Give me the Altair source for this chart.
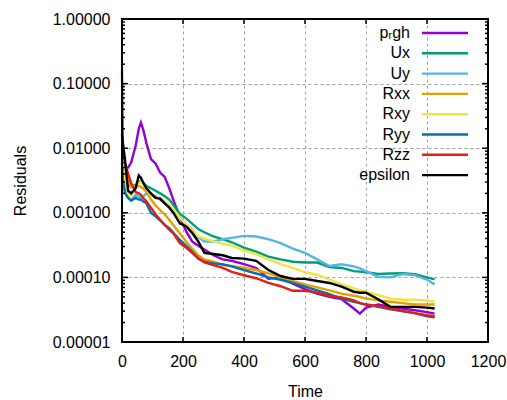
import altair as alt
import pandas as pd

time = [0, 3, 10, 20, 30, 45, 55, 62, 70, 80, 95, 110, 125, 140, 155, 170, 190, 210, 230, 250,
        270, 300, 330, 360, 400, 440, 480, 520, 560, 600, 640, 680, 720, 760, 780, 800, 840, 880,
        920, 960, 1000, 1025]

p_rgh = [0.006, 0.0055, 0.005, 0.005, 0.006, 0.011, 0.02, 0.025, 0.019, 0.012,
         0.0068, 0.0058, 0.0042, 0.0036, 0.0024, 0.0015, 0.00087, 0.00052, 0.00036, 0.00031,
         0.00027, 0.00022, 0.00019, 0.00018, 0.00016, 0.00014, 0.000095, 0.0001, 0.00008, 0.000066,
         0.000056, 0.00005, 0.000046, 0.000033, 0.0000275, 0.000034, 0.000038, 0.000035, 0.000033, 0.000031,
         0.000029, 0.0000275]
Ux = [0.005, 0.004, 0.0035, 0.0028, 0.0025, 0.0027, 0.003, 0.0031, 0.0029, 0.0026,
      0.0024, 0.0022, 0.002, 0.0018, 0.0016, 0.0013, 0.00096, 0.00082, 0.00068, 0.00056,
      0.0005, 0.00043, 0.00039, 0.00035, 0.00029, 0.00025, 0.00021, 0.00019, 0.000175, 0.00017,
      0.00017, 0.000145, 0.00014, 0.000125, 0.000123, 0.00012, 0.000113, 0.000115, 0.000116, 0.000112,
      0.0001, 0.000093]
Uy = [0.004, 0.003, 0.0022, 0.0017, 0.00155, 0.0019, 0.0018, 0.0017, 0.0018, 0.002,
      0.0019, 0.0018, 0.0016, 0.0014, 0.0013, 0.0011, 0.00085, 0.00066, 0.00056, 0.00042,
      0.00036, 0.00036, 0.00039, 0.00041, 0.00044, 0.00043, 0.00039, 0.00034, 0.00028, 0.00024,
      0.00019, 0.00015, 0.00016, 0.000148, 0.000138, 0.000125, 0.000102, 0.0001, 0.000113, 0.000108,
      0.000092, 0.000078]
Rxx = [0.007, 0.005, 0.0041, 0.0032, 0.0025, 0.0026, 0.0026, 0.0025, 0.0024, 0.0021,
       0.0016, 0.0013, 0.0011, 0.00095, 0.00078, 0.00063, 0.00048, 0.00036, 0.00028, 0.00022,
       0.00019, 0.000175, 0.000155, 0.00015, 0.00014, 0.00013, 0.000115, 0.0001, 0.000088, 0.000078,
       0.00007, 0.000063, 0.000056, 0.000052, 0.00005, 0.000047, 0.000044, 0.000042, 0.00004, 0.000038,
       0.000038, 0.000038]
Rxy = [0.008, 0.007, 0.003, 0.002, 0.0018, 0.0025, 0.0029, 0.003, 0.0028, 0.0023,
       0.0019, 0.0017, 0.0017, 0.0015, 0.0013, 0.0011, 0.00085, 0.00066, 0.00055, 0.00043,
       0.0004, 0.00036, 0.00033, 0.00031, 0.00026, 0.00023, 0.00019, 0.00016, 0.00014, 0.00012,
       0.00011, 0.000092, 0.000078, 0.000068, 0.000063, 0.00006, 0.000053, 0.000047, 0.000045, 0.000045,
       0.000044, 0.000042]
Ryy = [0.006, 0.0032, 0.002, 0.0017, 0.00155, 0.0017, 0.0016, 0.0016, 0.0015, 0.0014,
       0.001, 0.00088, 0.00076, 0.00065, 0.00058, 0.00048, 0.00038, 0.00031, 0.00025, 0.000195,
       0.000175, 0.000165, 0.00016, 0.000148, 0.00013, 0.000115, 0.0001, 0.000092, 0.000082, 0.000072,
       0.000063, 0.000055, 0.000047, 0.000042, 0.00004, 0.000038, 0.000035, 0.000032, 0.00003, 0.000028,
       0.000025, 0.000024]
Rzz = [0.16, 0.009, 0.006, 0.004, 0.0029, 0.0021, 0.002, 0.0019, 0.0017, 0.0015,
       0.0012, 0.00095, 0.00078, 0.00065, 0.00055, 0.00047, 0.00034, 0.00029, 0.00024, 0.0002,
       0.00017, 0.000155, 0.00014, 0.000122, 0.000108, 0.000097, 0.000082, 0.000073, 0.000062, 0.000062,
       0.000058, 0.000052, 0.000049, 0.000044, 0.00004, 0.000038, 0.000036, 0.000033, 0.00003, 0.000028,
       0.000026, 0.000025]
epsilon = [0.016, 0.012, 0.0065, 0.0022, 0.002, 0.0024, 0.0038, 0.0035, 0.0029, 0.0024,
           0.002, 0.0017, 0.00166, 0.0014, 0.0012, 0.00098, 0.00068, 0.00062, 0.00049, 0.00036,
           0.00024, 0.00023, 0.00022, 0.0002, 0.000195, 0.00018, 0.00013, 0.000105, 0.000095, 0.000095,
           0.000088, 0.000082, 0.000072, 0.00006, 0.000058, 0.000058, 0.000046, 0.000035, 0.000035, 0.000035,
           0.000034, 0.000033]

series_names = ["p_rgh", "Ux", "Uy", "Rxx", "Rxy", "Ryy", "Rzz", "epsilon"]
legend_labels = ["p\u1d63gh", "Ux", "Uy", "Rxx", "Rxy", "Ryy", "Rzz", "epsilon"]
colors = ["#9400d3", "#009e73", "#56b4e9", "#e69f00", "#f0e442", "#0072b2", "#e51e10", "#000000"]
series_values = [p_rgh, Ux, Uy, Rxx, Rxy, Ryy, Rzz, epsilon]

y_major = [0.00001, 0.0001, 0.001, 0.01, 0.1, 1.0]
x_major = [0, 200, 400, 600, 800, 1000, 1200]
y_minor = [m * d for d in [0.00001, 0.0001, 0.001, 0.01, 0.1] for m in range(2, 10)]

rows = []
for name, vals in zip(series_names, series_values):
    for t, v in zip(time, vals):
        rows.append({"Time": t, "Residual": v, "series": name})
df = pd.DataFrame(rows)

W, H = 366, 323
FONT = "Liberation Sans"

xscale = alt.Scale(domain=[0, 1200], nice=False, zero=False)
yscale = alt.Scale(type="log", domain=[0.00001, 1], nice=False)
cscale = alt.Scale(domain=series_names, range=colors)

xaxis = alt.Axis(values=x_major, format="d", title="Time", grid=True, gridColor="#a0a0a0",
                 gridDash=[3, 3], gridWidth=1, tickSize=0, domain=False,
                 labelFontSize=16, labelPadding=11, labelColor="black", labelFont=FONT,
                 titleFontSize=16, titleFontWeight="normal", titlePadding=14, titleFont=FONT,
                 titleColor="black", labelFlush=False)
yaxis = alt.Axis(values=y_major, format=".5f", title="Residuals", grid=True,
                 gridColor="#a0a0a0", gridDash=[3, 3], gridWidth=1, tickSize=0, domain=False,
                 labelFontSize=16, labelPadding=12, labelColor="black", labelFont=FONT,
                 titleFontSize=16, titleFontWeight="normal", titlePadding=24, titleFont=FONT,
                 titleColor="black", labelFlush=False)

lines = alt.Chart(df).mark_line(strokeWidth=2.4).encode(
    x=alt.X("Time:Q", scale=xscale, axis=xaxis),
    y=alt.Y("Residual:Q", scale=yscale, axis=yaxis),
    color=alt.Color("series:N", scale=cscale, legend=None),
)

ymaj_df = pd.DataFrame({"Residual": y_major[1:-1]})
ymin_df = pd.DataFrame({"Residual": y_minor})
xmaj_df = pd.DataFrame({"Time": x_major[1:-1]})


def ytick(data, x1, x2):
    return alt.Chart(data).mark_rule(color="black", strokeWidth=1.5).encode(
        x=alt.value(x1), x2=alt.value(x2),
        y=alt.Y("Residual:Q", scale=yscale, axis=yaxis))


def xtick(data, y1, y2):
    return alt.Chart(data).mark_rule(color="black", strokeWidth=1.5).encode(
        x=alt.X("Time:Q", scale=xscale, axis=xaxis),
        y=alt.value(y1), y2=alt.value(y2))


ticks = [
    ytick(ymaj_df, 0, 6), ytick(ymaj_df, W, W - 6),
    ytick(ymin_df, 0, 3), ytick(ymin_df, W, W - 3),
    xtick(xmaj_df, H, H - 5), xtick(xmaj_df, 0, 5),
]

one = pd.DataFrame({"f": [0]})
frame = alt.Chart(one).mark_rect(fill=None, stroke="black", strokeWidth=2).encode(
    x=alt.value(0), x2=alt.value(W), y=alt.value(0), y2=alt.value(H))

legend_layers = []
for i, (lab, col) in enumerate(zip(legend_labels, colors)):
    ypix = 14 + i * 20.3
    legend_layers.append(
        alt.Chart(one).mark_text(align="right", baseline="middle", fontSize=16,
                                 font=FONT, color="black").encode(
            x=alt.value(288), y=alt.value(ypix), text=alt.value(lab)))
    legend_layers.append(
        alt.Chart(one).mark_rule(strokeWidth=2.4, color=col).encode(
            x=alt.value(300), x2=alt.value(346), y=alt.value(ypix)))

chart = alt.layer(lines, *ticks, frame, *legend_layers).properties(
    width=W, height=H,
    autosize=alt.AutoSizeParams(type="none"),
    padding={"left": 122, "top": 19, "right": 19, "bottom": 58},
).configure_view(
    stroke="black", strokeWidth=2,
)

chart.save("out.html", embed_options={"renderer": "svg", "actions": False})
